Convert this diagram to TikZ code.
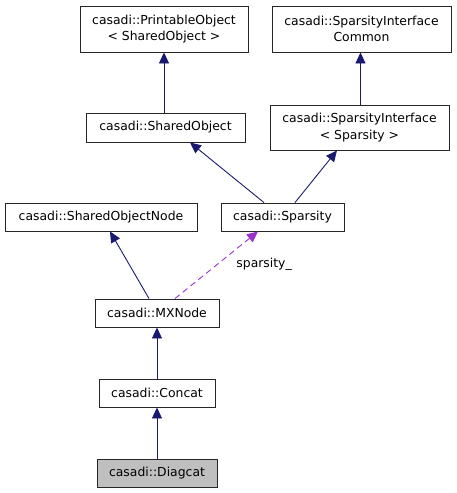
\documentclass[tikz,border=0pt]{standalone}
\usepackage{fontspec}
\setmainfont{DejaVu Sans}
\usetikzlibrary{arrows.meta}
\definecolor{edgeblue}{HTML}{191970}
\definecolor{edgepurple}{HTML}{9A32CD}
\tikzset{
  cls/.style={draw=black!85, line width=0.9pt, fill=white, inner sep=0pt, align=center,
    font=\fontsize{12.4}{16.5}\selectfont},
  inh/.style={draw=edgeblue, line width=0.9pt, -{Triangle[length=11pt,width=10pt]}},
  use/.style={draw=edgepurple, line width=0.9pt, dash pattern=on 6pt off 4pt, -{Triangle[length=11pt,width=10pt]}},
}
\begin{document}
\begin{tikzpicture}[x=1pt,y=-1pt]
\useasboundingbox (0,0) rectangle (456,493);
\node[cls, minimum width=168pt, minimum height=46pt] (po) at (164,29) {casadi::PrintableObject\\< SharedObject >};
\node[cls, minimum width=179pt, minimum height=46pt] (sic) at (361.5,29) {casadi::SparsityInterface\\Common};
\node[cls, minimum width=159pt, minimum height=29pt] (so) at (165.5,127.5) {casadi::SharedObject};
\node[cls, minimum width=179pt, minimum height=45pt] (sip) at (359.5,127.5) {casadi::SparsityInterface\\< Sparsity >};
\node[cls, minimum width=192pt, minimum height=28pt] (son) at (101,217) {casadi::SharedObjectNode};
\node[cls, minimum width=123pt, minimum height=28pt] (sp) at (282.5,217) {casadi::Sparsity};
\node[cls, minimum width=124pt, minimum height=28pt] (mx) at (157,313) {casadi::MXNode};
\node[cls, minimum width=116pt, minimum height=28pt] (cc) at (157,393) {casadi::Concat};
\node[cls, fill=black!25, minimum width=120pt, minimum height=28pt] (dc) at (157,473) {casadi::Diagcat};

\draw[inh] (po.south |- so.north) -- (po.south);
\draw[inh] ([xshift=-1pt]sic.south |- sip.north) -- ([xshift=-1pt]sic.south);
\draw[inh] ([xshift=-18.5pt]sp.north) -- ([xshift=24.5pt]so.south);
\draw[inh] ([xshift=12.5pt]sp.north) -- ([xshift=-22.5pt]sip.south);
\draw[inh] ([xshift=-8pt]mx.north) -- ([xshift=9pt]son.south);
\draw[use] ([xshift=18pt]mx.north) -- node[pos=0.55, right=12pt, yshift=-3pt, font=\fontsize{12.4}{15}\selectfont, text=black] (lbl) {sparsity\_} ([xshift=-24.5pt]sp.south);
\draw[inh] (cc.north) -- (mx.south);
\draw[inh] (dc.north) -- (cc.south);
\end{tikzpicture}
\end{document}
